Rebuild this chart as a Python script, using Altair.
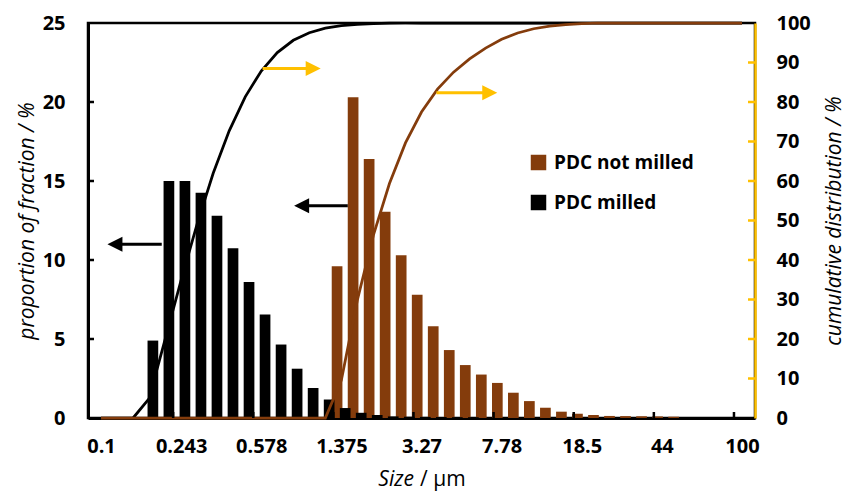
import altair as alt
import pandas as pd

# ---------------- data ----------------
sizes = [0.1, 0.115, 0.137, 0.163, 0.2, 0.243, 0.289, 0.344, 0.409, 0.486,
         0.578, 0.688, 0.818, 0.972, 1.156, 1.375, 1.635, 1.945, 2.312, 2.75,
         3.27, 3.889, 4.625, 5.5, 6.541, 7.78, 9.25, 11.0, 13.08, 15.56,
         18.5, 22.0, 26.16, 31.11, 37.0, 44.0, 52.33, 62.23, 74.0, 88.0, 100.0]

pdc_milled = [0, 0, 0, 4.9, 15.0, 15.0, 14.25, 12.8, 10.75, 8.6,
              6.55, 4.65, 3.12, 1.9, 1.17, 0.63, 0.33, 0.19, 0.1, 0.08,
              0.07, 0.06, 0.05, 0.05, 0, 0, 0, 0, 0, 0,
              0, 0, 0, 0, 0, 0, 0, 0, 0, 0, 0]

pdc_not_milled = [0, 0, 0, 0, 0, 0, 0, 0, 0, 0,
                  0, 0, 0, 0, 0, 9.6, 20.3, 16.4, 13.05, 10.3,
                  7.8, 5.8, 4.3, 3.35, 2.75, 2.22, 1.6, 1.07, 0.65, 0.4,
                  0.27, 0.19, 0.13, 0.12, 0.11, 0.1, 0.08, 0, 0, 0, 0]

series_names = ["PDC not milled", "PDC milled"]
series_colors = ["#843C0C", "#000000"]

tick_index = [0, 5, 10, 15, 20, 25, 30, 35, 40]
tick_labels = ["0.1", "0.243", "0.578", "1.375", "3.27", "7.78", "18.5", "44", "100"]
left_ticks = [5, 10, 15, 20]
right_ticks = [10, 20, 30, 40, 50, 60, 70, 80, 90]
bottom_ticks = [4.5, 9.5, 14.5, 19.5, 24.5, 29.5, 34.5, 39.5]

# arrows (x in category index, y in cumulative %)
arrow_x1 = [10.08, 3.79, 15.4, 20.93]
arrow_x2 = [13.24, 0.87, 12.52, 24.26]
arrow_y = [88.5, 43.96, 53.76, 82.36]
arrow_dir = ["right", "left", "left", "right"]
arrow_color = ["#FFC000", "#000000", "#000000", "#FFC000"]

rows = []
for i, s in enumerate(sizes):
    rows.append({"idx": i, "size": s, "series": "PDC not milled", "value": pdc_not_milled[i]})
    rows.append({"idx": i, "size": s, "series": "PDC milled", "value": pdc_milled[i]})
df = pd.DataFrame(rows)

arrows = pd.DataFrame({"x1": arrow_x1, "x2": arrow_x2, "y": arrow_y,
                       "dir": arrow_dir, "c": arrow_color})

W, H = 667, 395
FONT = "Open Sans"
YELLOW = "#FFC000"

label_expr = "[" + ",".join(f"'{t}'" for t in tick_labels) + "][round(datum.value / 5)]"

x_scale = alt.Scale(domain=[-0.5, 40.5], nice=False, zero=False)
x_axis = alt.Axis(values=tick_index, labelExpr=label_expr, ticks=False, tickSize=0,
                  domainColor="black", domainWidth=3, labelFontSize=20,
                  labelFontWeight="bold", labelFont=FONT, labelColor="black",
                  labelPadding=28, labelBaseline="middle", grid=False, title=None,
                  labelFlush=False, labelOverlap=False)

yl_scale = alt.Scale(domain=[0, 25], nice=False, zero=True)
yl_axis = alt.Axis(orient="left", values=[0, 5, 10, 15, 20, 25], ticks=False, tickSize=0,
                   domainColor="black", domainWidth=3, labelFontSize=20,
                   labelFontWeight="bold", labelFont=FONT, labelColor="black",
                   labelPadding=23, grid=False, labelFlush=False,
                   title="proportion of fraction / %", titleFont=FONT, titleFontSize=21,
                   titleFontStyle="italic", titleFontWeight="normal", titleColor="black",
                   titleX=-61, titleY=H / 2, titleAngle=270, titleAlign="center",
                   titleBaseline="middle")

yr_scale = alt.Scale(domain=[0, 100], nice=False, zero=True, clamp=True)
yr_axis = alt.Axis(orient="right", values=list(range(0, 101, 10)), ticks=False, tickSize=0,
                   domainColor=YELLOW, domainWidth=2.5, labelFontSize=20,
                   labelFontWeight="bold", labelFont=FONT, labelColor="black",
                   labelPadding=21, grid=False, labelFlush=False,
                   title="cumulative distribution / %", titleFont=FONT, titleFontSize=21,
                   titleFontStyle="italic", titleFontWeight="normal", titleColor="black",
                   titleX=79, titleY=H / 2, titleAngle=270, titleAlign="center",
                   titleBaseline="middle")


def XQ(field):
    return alt.X(field, scale=x_scale, axis=x_axis)


def YL(field):
    return alt.Y(field, scale=yl_scale, axis=yl_axis)


def YR(field):
    return alt.Y(field, scale=yr_scale, axis=yr_axis)


color = alt.Color("series:N",
                  scale=alt.Scale(domain=series_names, range=series_colors),
                  legend=alt.Legend(orient="none", legendX=441, legendY=130, title=None,
                                    symbolType="square", symbolSize=240, symbolStrokeWidth=0,
                                    symbolOpacity=1, labelFontSize=19, labelFontWeight="bold",
                                    labelFont=FONT, labelColor="black", labelOffset=6,
                                    rowPadding=20, padding=0))

base = alt.Chart(df)

brown_bars = base.transform_filter(
    "datum.series == 'PDC not milled' && datum.value > 0"
).mark_bar(width=10.7, xOffset=-4.3).encode(
    x=XQ("idx:Q"), y=YL("value:Q"), color=color)

black_bars = base.transform_filter(
    "datum.series == 'PDC milled' && datum.value > 0"
).mark_bar(width=10.7, xOffset=3.8).encode(
    x=XQ("idx:Q"), y=YL("value:Q"), color=color)

left_tick_rules = alt.Chart(pd.DataFrame({"ly": left_ticks})).mark_rule(
    color="black", strokeWidth=2.5).encode(
    y=YL("ly:Q"), x=alt.value(0), x2=alt.value(6))

left_group = alt.layer(brown_bars, black_bars, left_tick_rules)

cum = base.transform_window(
    cum="sum(value)", frame=[None, 0], sort=[alt.SortField("idx")], groupby=["series"])

black_line = cum.transform_filter("datum.series == 'PDC milled'").mark_line(
    color="#000000", strokeWidth=2.75).encode(x=XQ("idx:Q"), y=YR("cum:Q"))

brown_line = cum.transform_filter("datum.series == 'PDC not milled'").mark_line(
    color="#843C0C", strokeWidth=2.75).encode(x=XQ("idx:Q"), y=YR("cum:Q"))

right_tick_rules = alt.Chart(pd.DataFrame({"ry": right_ticks})).mark_rule(
    color=YELLOW, strokeWidth=2.5).encode(
    y=YR("ry:Q"), x=alt.value(W - 7), x2=alt.value(W))

bottom_tick_rules = alt.Chart(pd.DataFrame({"bx": bottom_ticks})).mark_rule(
    color="black", strokeWidth=2.5).encode(
    x=XQ("bx:Q"), y=alt.value(H - 6), y2=alt.value(H))

arrow_lines = alt.Chart(arrows).mark_rule(strokeWidth=3).encode(
    x=XQ("x1:Q"), x2="x2:Q", y=YR("y:Q"),
    color=alt.Color("c:N", scale=None))

head_r = alt.Chart(arrows).transform_filter("datum.dir == 'right'").mark_point(
    shape="M-1,-1L1,0L-1,1Z", size=225, filled=True, opacity=1, strokeWidth=0).encode(
    x=XQ("x2:Q"), y=YR("y:Q"), color=alt.Color("c:N", scale=None))

head_l = alt.Chart(arrows).transform_filter("datum.dir == 'left'").mark_point(
    shape="M1,-1L-1,0L1,1Z", size=225, filled=True, opacity=1, strokeWidth=0).encode(
    x=XQ("x2:Q"), y=YR("y:Q"), color=alt.Color("c:N", scale=None))

xt1 = alt.Chart(pd.DataFrame({"t": ["Size"]})).mark_text(
    font=FONT, fontSize=21, fontStyle="italic", align="right", baseline="middle",
    color="black").encode(x=alt.value(326), y=alt.value(H + 62), text="t:N")
xt2 = alt.Chart(pd.DataFrame({"t": ["/ µm"]})).mark_text(
    font=FONT, fontSize=21, align="left", baseline="middle",
    color="black").encode(x=alt.value(332), y=alt.value(H + 62), text="t:N")

right_group = alt.layer(black_line, brown_line, right_tick_rules, bottom_tick_rules,
                        arrow_lines, head_r, head_l, xt1, xt2)

chart = alt.layer(left_group, right_group).resolve_scale(
    y="independent", color="independent"
).properties(
    width=W, height=H,
    autosize=alt.AutoSizeParams(type="none"),
    padding={"left": 88, "top": 23, "right": 92, "bottom": 77},
    background="white",
).configure_view(stroke="black", strokeWidth=2.5)

chart.save("out.html", embed_options={"renderer": "svg", "actions": False})
